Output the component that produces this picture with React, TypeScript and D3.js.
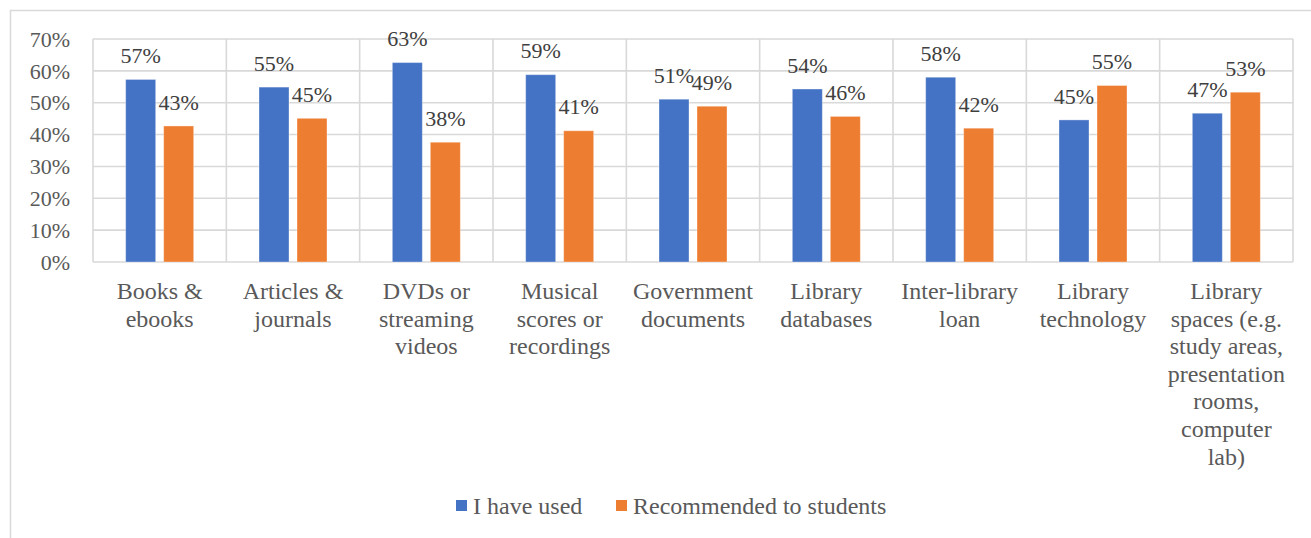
import React from "react";
import * as d3 from "d3";

const categories: string[][] = [
  ["Books &", "ebooks"],
  ["Articles &", "journals"],
  ["DVDs or", "streaming", "videos"],
  ["Musical", "scores or", "recordings"],
  ["Government", "documents"],
  ["Library", "databases"],
  ["Inter-library", "loan"],
  ["Library", "technology"],
  ["Library", "spaces (e.g.", "study areas,", "presentation", "rooms,", "computer", "lab)"],
];
const usedValues = [57.3, 54.9, 62.6, 58.8, 51.1, 54.3, 58.0, 44.6, 46.7];
const recommendedValues = [42.7, 45.1, 37.6, 41.2, 48.9, 45.7, 42.0, 55.4, 53.3];
const seriesNames = ["I have used", "Recommended to students"];
const seriesColors = ["#4472C4", "#ED7D31"];
const yTicks = [0, 10, 20, 30, 40, 50, 60, 70];

const W = 1311;
const H = 538;
const left = 93;
const right = 1293;
const top = 39;
const bottom = 262;
const TEXT = "#595959";
const GRID = "#d9d9d9";
const ts: React.CSSProperties = { fontFamily: "Liberation Serif" };

export default function App() {
  const keys = categories.map((c) => c.join(" "));
  const x = d3.scaleBand<string>().domain(keys).range([left, right]).padding(0);
  const y = d3.scaleLinear().domain([0, 70]).range([bottom, top]);
  const barW = 30;
  const gap = 8;
  const series = [usedValues, recommendedValues];
  const fmt = (v: number) => `${Math.round(v)}%`;

  return (
    <svg width={W} height={H} style={{ position: "absolute", left: 0, top: 0, background: "#fff" }}>
      <rect x={10.5} y={10.5} width={W + 10} height={H + 10} fill="#fff" stroke={GRID} strokeWidth={1.5} />
      {yTicks.map((t) => (
        <line key={"g" + t} x1={left} x2={right} y1={y(t)} y2={y(t)} stroke={GRID} strokeWidth={1.6} />
      ))}
      {keys.map((k) => (
        <line key={"v" + k} x1={x(k)!} x2={x(k)!} y1={top} y2={bottom} stroke={GRID} strokeWidth={1.6} />
      ))}
      <line x1={right} x2={right} y1={top} y2={bottom} stroke={GRID} strokeWidth={1.6} />
      {yTicks.map((t) => (
        <text key={"yt" + t} style={ts} x={70} y={y(t)} dy="0.35em" textAnchor="end" fontSize={22} fill={TEXT}>
          {t}%
        </text>
      ))}
      {keys.map((k, i) => {
        const bw = x.bandwidth();
        const start = x(k)! + (bw - 2 * barW - gap) / 2;
        return series.map((vals, s) => {
          const bx = start + s * (barW + gap);
          const v = vals[i];
          return (
            <g key={k + s}>
              <rect
                x={bx}
                y={y(v)}
                width={barW}
                height={y(0) - y(v)}
                fill={seriesColors[s]}
                stroke="#ffffff"
                strokeOpacity={0.35}
                strokeWidth={1}
              />
              <text
                style={ts}
                x={bx + barW / 2}
                y={y(v) - 24}
                dy="0.35em"
                textAnchor="middle"
                fontSize={22}
                fill="#404040"
              >
                {fmt(v)}
              </text>
            </g>
          );
        });
      })}
      {categories.map((lines, i) => {
        const cx = x(keys[i])! + x.bandwidth() / 2;
        return (
          <text key={"c" + i} style={ts} textAnchor="middle" fontSize={24} fill={TEXT}>
            {lines.map((ln, j) => (
              <tspan key={j} x={cx} y={291 + j * 27.6} dy="0.33em">
                {ln}
              </tspan>
            ))}
          </text>
        );
      })}
      {seriesNames.map((name, s) => {
        const lx = s === 0 ? 456 : 616;
        return (
          <g key={"l" + s}>
            <rect x={lx} y={500} width={11} height={11} fill={seriesColors[s]} />
            <text style={ts} x={lx + 17} y={506} dy="0.33em" fontSize={24} fill={TEXT}>
              {name}
            </text>
          </g>
        );
      })}
    </svg>
  );
}
